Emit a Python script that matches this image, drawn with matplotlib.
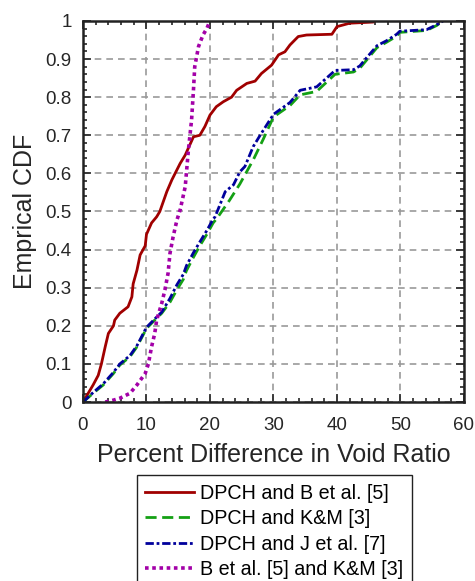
import numpy as np
import matplotlib
matplotlib.use("Agg")
import matplotlib.pyplot as plt
from matplotlib.ticker import MultipleLocator, FormatStrFormatter

plt.rcParams['font.family'] = ['Liberation Sans', 'DejaVu Sans']

# Percent difference (x) and CDF (y)
red_x = [0.0, 1.6, 2.4, 2.9, 3.5, 4.0, 4.8, 5.0, 5.8, 7.1, 7.7, 7.9, 8.5, 9.0, 9.8, 10.0,
         10.8, 11.6, 12.1, 13.2, 14.0, 15.3, 16.1, 17.4, 18.4, 19.2, 20.0, 21.0, 22.1,
         23.4, 24.2, 25.8, 27.1, 28.1, 29.7, 30.8, 31.8, 32.6, 33.9, 35.2, 39.2, 40.0,
         42.0, 45.7, 46.0]
red_y = [0.0, 0.045, 0.07, 0.10, 0.145, 0.18, 0.20, 0.215, 0.233, 0.25, 0.276, 0.31, 0.346,
         0.386, 0.41, 0.44, 0.47, 0.486, 0.50, 0.552, 0.583, 0.626, 0.648, 0.696, 0.70,
         0.723, 0.753, 0.775, 0.788, 0.80, 0.818, 0.836, 0.842, 0.862, 0.884, 0.911, 0.919,
         0.937, 0.959, 0.963, 0.965, 0.985, 0.994, 0.997, 1.0]

green_x = [0.0, 1.6, 3.2, 4.8, 5.8, 7.4, 8.5, 10.0, 11.3, 12.4, 13.7, 14.8, 15.8, 16.3,
           17.4, 18.4, 19.5, 20.5, 21.1, 23.1, 24.7, 26.8, 28.4, 30.0, 32.6, 34.2, 36.8,
           39.7, 42.6, 43.6, 44.7, 46.3, 47.8, 49.4, 49.9, 54.1, 55.7, 56.7]
green_y = [0.0, 0.023, 0.045, 0.075, 0.097, 0.119, 0.145, 0.193, 0.215, 0.233, 0.262,
           0.295, 0.322, 0.345, 0.38, 0.41, 0.44, 0.47, 0.482, 0.53, 0.572, 0.635, 0.69,
           0.748, 0.778, 0.806, 0.815, 0.86, 0.866, 0.876, 0.898, 0.93, 0.944, 0.96, 0.97,
           0.975, 0.988, 1.0]

blue_x = [0.0, 1.6, 3.2, 4.8, 5.8, 7.4, 8.5, 10.0, 11.3, 12.4, 13.7, 14.8, 15.8, 16.3,
          17.4, 18.4, 19.5, 20.5, 20.8, 22.4, 23.7, 24.7, 25.5, 26.8, 27.9, 30.0, 32.6,
          34.2, 36.8, 39.7, 42.6, 43.6, 44.7, 46.3, 47.8, 49.4, 49.9, 54.1, 55.7, 56.7]
blue_y = [0.0, 0.025, 0.048, 0.078, 0.10, 0.122, 0.148, 0.196, 0.218, 0.236, 0.272, 0.308,
          0.335, 0.358, 0.392, 0.42, 0.45, 0.48, 0.486, 0.552, 0.57, 0.604, 0.618, 0.67,
          0.70, 0.755, 0.786, 0.818, 0.827, 0.87, 0.872, 0.882, 0.904, 0.935, 0.948, 0.965,
          0.973, 0.977, 0.99, 1.0]

mag_x = [3.5, 4.8, 5.8, 7.4, 8.5, 9.8, 10.3, 10.8, 11.3, 11.6, 12.4, 12.9, 13.4, 13.7,
         14.2, 14.8, 15.3, 16.1, 16.6, 17.1, 17.4, 17.6, 18.2, 18.9, 19.5, 20.0]
mag_y = [0.0, 0.005, 0.01, 0.023, 0.045, 0.075, 0.10, 0.145, 0.18, 0.215, 0.259, 0.294,
         0.338, 0.39, 0.434, 0.478, 0.504, 0.565, 0.661, 0.74, 0.819, 0.88, 0.933, 0.963,
         0.98, 1.0]

labels = ["DPCH and B et al. [5]", "DPCH and K&M [3]", "DPCH and J et al. [7]",
          "B et al. [5] and K&M [3]"]

fig = plt.figure(figsize=(4.75, 5.81), dpi=100)
ax = fig.add_axes([0.1747, 0.308, 0.8021, 0.656])

ax.plot(red_x, red_y, color='#a00000', lw=2, ls='-', label=labels[0])
ax.plot(green_x, green_y, color='#14a014', lw=2, ls=(0, (4, 2)), label=labels[1])
ax.plot(blue_x, blue_y, color='#00009c', lw=2, ls=(0, (3, 1, 1, 1)), label=labels[2])
ax.plot(mag_x, mag_y, color='#a300a8', lw=2.6, ls=(0, (1, 1)), label=labels[3])

ax.set_xlim(0, 60)
ax.set_ylim(0, 1)
ax.xaxis.set_major_locator(MultipleLocator(10))
ax.xaxis.set_minor_locator(MultipleLocator(2))
ax.yaxis.set_major_locator(MultipleLocator(0.1))
ax.yaxis.set_minor_locator(MultipleLocator(0.02))
ax.yaxis.set_major_formatter(FormatStrFormatter('%g'))
ax.tick_params(which='both', direction='in', top=True, right=True, labelsize=13.5,
               width=1.2, colors='#262626')
ax.tick_params(which='major', length=6)
ax.tick_params(which='minor', length=3)
ax.tick_params(axis='x', which='major', pad=11)
ax.tick_params(axis='y', which='major', pad=8)
for s in ax.spines.values():
    s.set_linewidth(1.8)
    s.set_color('#222222')

ax.grid(True, which='major', color='#999999', ls=(0, (4, 3)), lw=1.2)
ax.set_axisbelow(True)

ax.set_xlabel("Percent Difference in Void Ratio", fontsize=18, labelpad=6, color='#262626')
ax.set_ylabel("Emprical CDF", fontsize=18, labelpad=6, color='#262626')

leg = fig.legend(loc='upper center', bbox_to_anchor=(0.577, 0.182), fontsize=14.2,
                 handlelength=2.5, handletextpad=0.3, labelspacing=0.33,
                 fancybox=False, edgecolor='#222222', framealpha=1, borderpad=0.42,
                 borderaxespad=0)
leg.get_frame().set_linewidth(1.0)

fig.savefig("out.png", dpi=100)
